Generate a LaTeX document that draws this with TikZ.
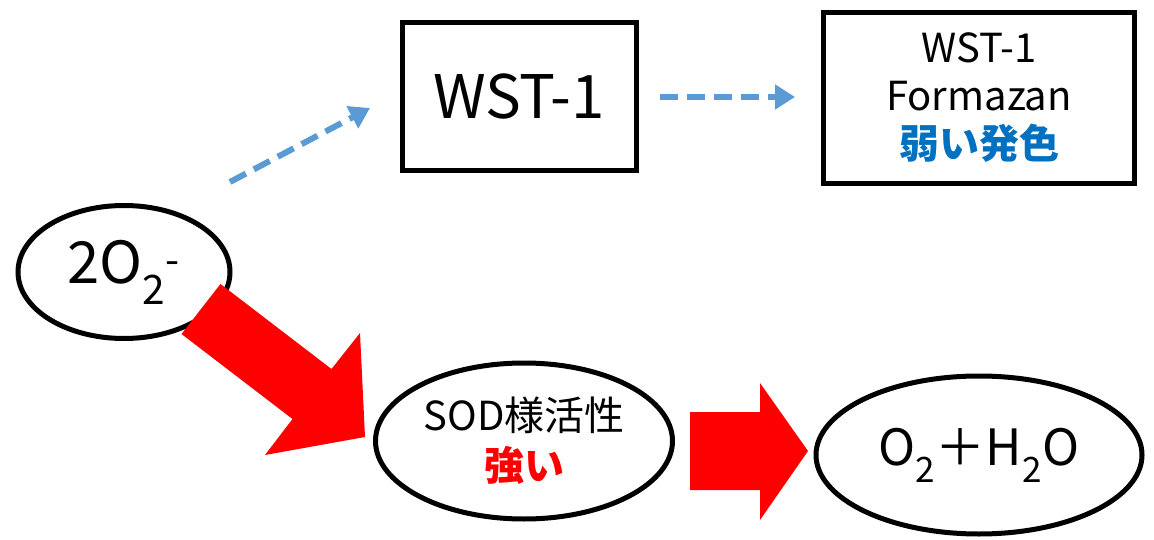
\documentclass[tikz,border=0pt]{standalone}
\usepackage{fontspec}
\setmainfont{Noto Sans CJK JP}
\usetikzlibrary{shapes.geometric,arrows.meta}
\definecolor{dblue}{HTML}{5B9BD5}
\definecolor{tblue}{HTML}{0070C0}
\begin{document}
\begin{tikzpicture}[x=1pt,y=-1pt,
  ell/.style={ellipse,draw=black,line width=5pt,inner sep=0pt},
  bx/.style={draw=black,line width=5pt,inner sep=0pt},
  dar/.style={draw=dblue,line width=6pt,dash pattern=on 18pt off 9pt,-{Triangle[length=20pt,width=24pt]}}]
\useasboundingbox (0,0) rectangle (1154,540);
\node[ell,minimum width=212,minimum height=133,font=\fontsize{58}{64}\selectfont] (a) at (124,272) {2O\textsubscript{2}\textsuperscript{-}};
\node[bx,minimum width=234,minimum height=148,font=\fontsize{60}{66}\selectfont] (b) at (519,97) {WST-1};
\node[bx,minimum width=311,minimum height=171,align=center,font=\fontsize{40}{48}\selectfont] (c) at (979,98) {WST-1\\Formazan\\{\bfseries\color{tblue}弱い発色}};
\node[ell,minimum width=297,minimum height=156,align=center,font=\fontsize{40}{50}\selectfont] (d) at (524,441) {SOD様活性\\{\bfseries\color{red}強い}};
\node[ell,minimum width=326,minimum height=158,font=\fontsize{50}{56}\selectfont] (e) at (979,455) {O\textsubscript{2}＋H\textsubscript{2}O};
\coordinate (p1) at (230,182); \coordinate (p2) at (370,108);
\coordinate (p3) at (660,97); \coordinate (p4) at (795,97);
\draw[dar] (p1) -- (p2);
\draw[dar] (p3) -- (p4);
\fill[red] (181.5,334) -- (220.5,284) -- (331.5,369) -- (360,333) -- (365,437) -- (265,455) -- (292.5,419) -- cycle;
\fill[red] (690,412) -- (760,412) -- (760,383) -- (808,451) -- (760,520) -- (760,490) -- (690,490) -- cycle;
\end{tikzpicture}
\end{document}
